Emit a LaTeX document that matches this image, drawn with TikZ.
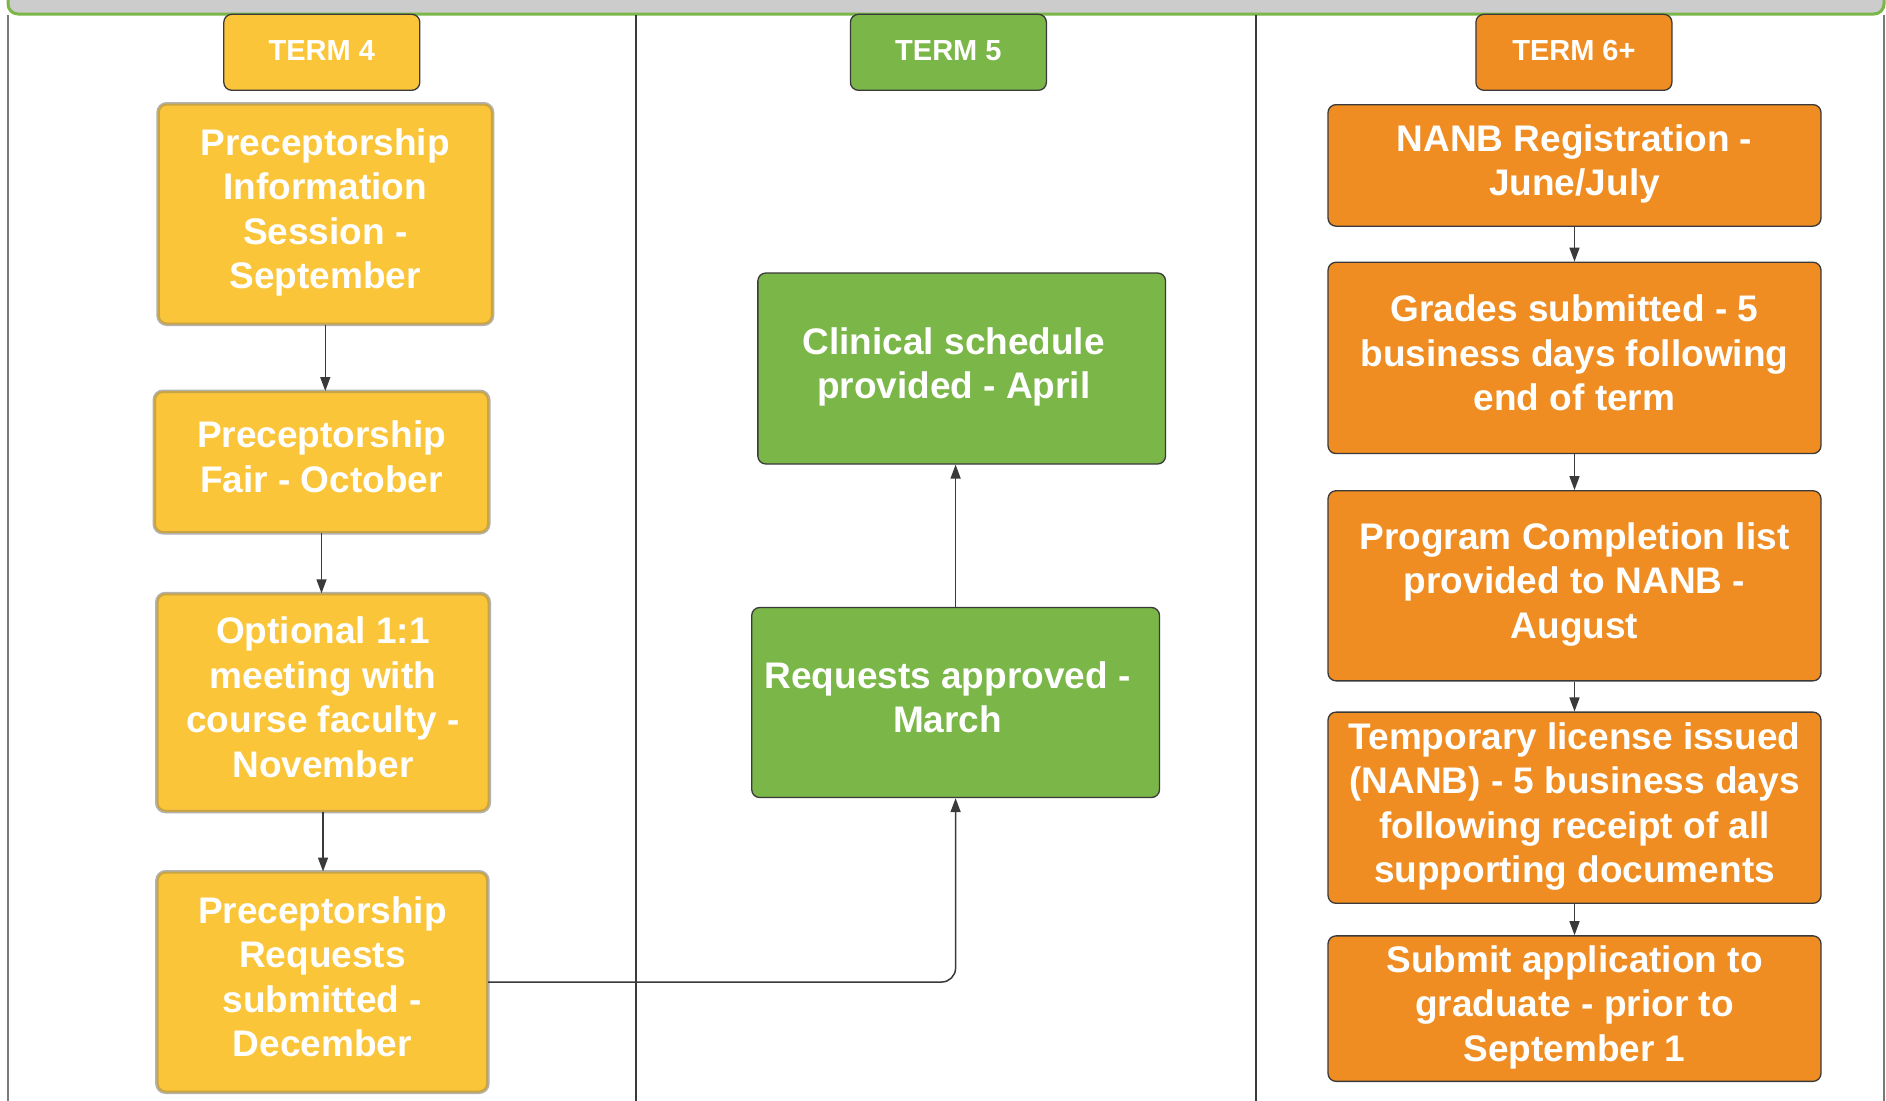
\documentclass[tikz,border=0pt]{standalone}
\usepackage{fontspec}
\setmainfont{Liberation Sans}
\usetikzlibrary{arrows.meta}
\definecolor{yel}{HTML}{FBC53A}
\definecolor{yelborder}{HTML}{C9A445}
\definecolor{grn}{HTML}{7AB648}
\definecolor{org}{HTML}{EF8D22}
\definecolor{hdrgray}{HTML}{CCCCCC}
\definecolor{edge}{HTML}{3A3A3A}
\definecolor{framegray}{HTML}{7A7A7A}
\newcommand{\lft}{\kern16pt}
\newcommand{\boxstrut}{\rule[-10.5pt]{0pt}{44.5pt}}
\newcommand{\termstrut}{\rule[-7.5pt]{0pt}{31pt}}
\tikzset{
  box/.style={rectangle, rounded corners=8pt, inner sep=0pt, align=center,
    text=white, font=\fontsize{37}{44.5}\selectfont\bfseries,
    execute at begin node=\boxstrut, execute at end node=\boxstrut},
  ybox/.style={box, fill=yel, draw=yelborder, line width=2pt,
    preaction={draw=black!30, line width=5pt}},
  gbox/.style={box, fill=grn, draw=edge, line width=1.3pt},
  obox/.style={box, fill=org, draw=edge, line width=1.3pt},
  termbox/.style={rectangle, rounded corners=8pt, inner sep=0pt, align=center,
    text=white, font=\fontsize{29}{31}\selectfont\bfseries,
    execute at begin node=\termstrut,
    minimum width=196pt, minimum height=76pt, draw=edge, line width=1.3pt},
  arr/.style={draw=edge, line width=1.5pt, -{Triangle[length=14pt,width=10pt]}},
  divider/.style={draw=edge, line width=1.3pt},
}
\begin{document}
\begin{tikzpicture}[x=1pt,y=-1pt]
\useasboundingbox (0,0) rectangle (1886,1100);
\fill[white] (0,0) rectangle (1886,1100);
\begin{scope}
\clip (0,0) rectangle (1886,1100);
% header bar
\draw[fill=hdrgray, draw=grn, line width=3pt, rounded corners=10pt] (8,-40) rectangle (1884,14);
% frame lines
\draw[framegray, line width=2pt] (8.3,15) -- (8.3,1110);
\draw[framegray, line width=2pt] (1884,15) -- (1884,1110);
\draw[divider] (636,15) -- (636,1110);
\draw[divider] (1256,15) -- (1256,1110);
\end{scope}
% term headers
\node[termbox, fill=yel] (t4) at (321.8,52.3) {TERM 4};
\node[termbox, fill=grn] (t5) at (948.4,52.3) {TERM 5};
\node[termbox, fill=org] (t6) at (1573.9,52.3) {TERM 6+};
% column 1
\node[ybox, minimum width=333pt, minimum height=219pt] (b1) at (325.3,214) {Preceptorship\\Information\\Session -\\September};
\node[ybox, minimum width=333pt, minimum height=140pt] (b2) at (321.5,462) {Preceptorship\\Fair - October};
\node[ybox, minimum width=331pt, minimum height=216.5pt] (b3) at (323,702.5) {Optional 1:1\\meeting with\\course faculty -\\November};
\node[ybox, minimum width=329.5pt, minimum height=219pt] (b4) at (322.4,982) {Preceptorship\\Requests\\submitted -\\December};
% column 2
\node[gbox, minimum width=407.7pt, minimum height=191pt] (c1) at (961.7,368.5) {Clinical schedule\lft\\provided - April\lft};
\node[gbox, minimum width=407.8pt, minimum height=190pt] (c2) at (955.6,702.5) {Requests approved -\lft\\March\lft};
% column 3
\node[obox, minimum width=493pt, minimum height=121.5pt] (d1) at (1574.5,165.4) {NANB Registration -\\June/July};
\node[obox, minimum width=493pt, minimum height=191.3pt] (d2) at (1574.5,357.9) {Grades submitted - 5\\business days following\\end of term};
\node[obox, minimum width=493pt, minimum height=190.1pt] (d3) at (1574.5,585.8) {Program Completion list\\provided to NANB -\\August};
\node[obox, minimum width=493pt, minimum height=191.2pt] (d4) at (1574.5,807.7) {Temporary license issued\\(NANB) - 5 business days\\following receipt of all\\supporting documents};
\node[obox, minimum width=493pt, minimum height=145.5pt] (d5) at (1574.5,1008.6) {Submit application to\\graduate - prior to\\September 1};
% connectors
\draw[arr] (b1.south) -- (b1.south |- b2.north);
\draw[arr] (b2.south) -- (b2.south |- b3.north);
\draw[arr] (b3.south) -- (b3.south |- b4.north);
\draw[arr, rounded corners=14pt] (b4.east) -| (c2.south);
\draw[arr] (c2.north) -- (c2.north |- c1.south);
\draw[arr] (d1.south) -- (d2.north);
\draw[arr] (d2.south) -- (d3.north);
\draw[arr] (d3.south) -- (d4.north);
\draw[arr] (d4.south) -- (d5.north);
\end{tikzpicture}
\end{document}
